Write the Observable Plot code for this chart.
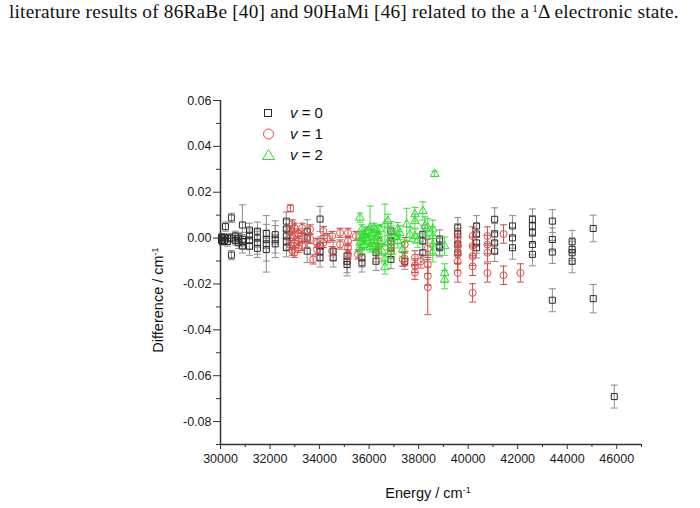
<!DOCTYPE html>
<html><head><meta charset="utf-8">
<script src="https://cdn.jsdelivr.net/npm/d3@7"></script>
<script src="https://cdn.jsdelivr.net/npm/@observablehq/plot@0.6"></script>
<style>
body{margin:0;background:#fff;width:700px;height:508px;position:relative;overflow:hidden}
#hdr{height:30px;font-family:"Liberation Serif",serif;font-size:19.3px;letter-spacing:0.2px;line-height:24px;padding-left:9px;white-space:nowrap;color:#111}
#hdr sup{font-size:11px;vertical-align:6px;line-height:0;margin-left:3px}
#legend{position:absolute;left:250px;top:98px}
</style></head><body>
<div id="hdr">literature results of 86RaBe [40] and 90HaMi [46] related to the a<sup>1</sup>Δ electronic state.</div>
<div id="chart"></div>
<div id="legend"></div>
<script>
// v = 0 (squares)
const v0Energy = [30040,30040,30080,30080,30160,30160,30200,30280,30280,30440,30440,30440,30600,30600,30720,30720,30885,30885,30885,30885,31170,31170,31170,31170,31490,31490,31490,31490,31850,31850,31850,31850,32210,32210,32210,32660,32660,32660,32660,32660,33500,33500,33500,34020,34020,34020,34020,34550,34550,35110,35110,35110,35710,35710,36280,36280,36880,36880,36880,36880,37440,38170,38170,38170,38850,38850,38850,39580,39580,39580,39580,40340,40340,40340,40340,41070,41070,41070,41070,41790,41790,41790,42595,42595,42595,42595,42595,43400,43400,43400,43400,44200,44200,44200,44200,45050,45050,45900];
const v0Diff = [0.0005,-0.001,0,-0.0015,0.0005,-0.001,0.005,0,-0.0015,0.0088,-0.0074,0,0.001,-0.001,0,-0.002,0.0057,-0.0005,-0.0015,-0.0035,0.0035,0.001,-0.001,-0.0035,0.003,0,-0.002,-0.0045,0.002,-0.0005,-0.0025,-0.005,0.0015,-0.0005,-0.0025,0.0074,0.004,0.0009,-0.0013,-0.0042,0.003,0,-0.0057,0.0083,-0.0035,-0.0057,-0.0086,-0.0057,-0.0086,-0.0079,-0.0101,-0.0115,-0.0086,-0.0108,-0.0064,-0.0101,0.0031,-0.0013,-0.0042,-0.0093,-0.0101,0.0017,-0.0013,-0.0064,-0.0004,-0.0035,-0.0042,0.0045,0.0018,-0.0026,-0.0064,0.0053,0.0018,-0.0021,-0.0042,0.0082,0.0018,-0.0021,-0.0057,0.0053,0.0001,-0.0042,0.0082,0.0053,0.0023,-0.0028,-0.0071,0.0074,-0.0006,-0.0061,-0.0271,-0.0016,-0.0049,-0.0064,-0.0101,0.0042,-0.0264,-0.0691];
const v0Err = [0.001,0.001,0.001,0.0015,0.001,0.0015,0.002,0.0015,0.002,0.002,0.002,0.002,0.002,0.002,0.002,0.0025,0.0088,0.003,0.003,0.003,0.003,0.003,0.004,0.004,0.004,0.004,0.005,0.004,0.004,0.004,0.0123,0.005,0.004,0.008,0.004,0.004,0.004,0.004,0.004,0.004,0.005,0.004,0.005,0.0055,0.004,0.004,0.004,0.004,0.004,0.005,0.005,0.005,0.004,0.004,0.004,0.004,0.004,0.004,0.004,0.004,0.0035,0.004,0.004,0.004,0.004,0.004,0.004,0.0045,0.0045,0.0045,0.0045,0.0045,0.0045,0.0045,0.0045,0.005,0.0045,0.0045,0.0045,0.0045,0.0045,0.005,0.0045,0.0045,0.0045,0.0045,0.005,0.005,0.005,0.005,0.005,0.005,0.005,0.005,0.005,0.0058,0.0062,0.005];

// v = 1 (circles)
const v1Energy = [32820,32820,32820,32820,32900,32900,32980,32980,32980,32980,33140,33140,33140,33300,33300,33300,33620,33620,33740,33900,33900,34150,34150,34310,34510,34510,34830,34830,35150,35150,35150,35150,35470,35550,36360,36360,36880,36880,37360,37440,37440,37850,37850,37850,38090,38370,38370,38370,38370,39580,39580,39580,39580,39580,40180,40180,40180,40180,40180,40780,40780,40780,40780,41430,41430,42110];
const v1Diff = [0.013,0.0035,0,-0.003,0.006,-0.0055,0.0045,0.0009,-0.0021,-0.0064,0.002,-0.0013,-0.0042,0.0045,0,-0.0035,0.0038,-0.0004,-0.0093,-0.0049,-0.0021,0.0031,-0.0021,0,0.0009,-0.0057,0.0023,-0.0028,0.0023,-0.0013,-0.0042,-0.0071,0.0009,-0.0071,-0.0013,-0.0057,-0.0028,-0.0057,-0.0093,-0.0028,-0.009,-0.0085,-0.012,-0.015,-0.0101,-0.0045,-0.0115,-0.0166,-0.0214,0.0001,-0.0035,-0.0071,-0.0101,-0.0152,0.0009,-0.0035,-0.0079,-0.0123,-0.0239,0.0009,-0.0028,-0.0064,-0.0152,0.0018,-0.0162,-0.0152];
const v1Err = [0.0015,0.002,0.002,0.002,0.002,0.002,0.002,0.002,0.002,0.002,0.002,0.002,0.002,0.002,0.002,0.002,0.002,0.002,0.002,0.002,0.002,0.002,0.002,0.002,0.002,0.002,0.002,0.002,0.002,0.002,0.002,0.002,0.002,0.002,0.003,0.003,0.003,0.003,0.003,0.003,0.003,0.003,0.003,0.003,0.003,0.004,0.004,0.004,0.012,0.004,0.004,0.004,0.004,0.004,0.004,0.004,0.004,0.004,0.004,0.004,0.004,0.004,0.004,0.004,0.004,0.004];

// v = 2 (triangles)
const v2Energy = [35630,35630,35630,35630,35710,35710,35790,35790,35870,35870,35960,35960,36040,36040,36120,36120,36200,36200,36280,36280,36360,36440,36440,36520,36640,36640,36640,36760,36760,36880,36880,37040,37160,37160,37240,37360,37520,37650,37850,37850,37850,37970,38170,38250,38370,38570,38570,38570,38570,38650,39050,39050,39050];
const v2Diff = [0.0089,0.001,-0.002,-0.0045,0.0038,-0.0005,0.0015,-0.003,0,0.0025,-0.0015,0.003,0.0045,-0.004,0.002,-0.0025,-0.001,0.0045,0.0035,-0.0049,0.0009,-0.0013,0.0038,-0.0057,0.006,-0.0093,-0.0127,0.0074,-0.002,0.0023,-0.006,0.0005,0.0038,-0.0013,0.0023,-0.0049,0.006,0.0015,0.0104,0.0074,0.0009,-0.001,0.0118,0.0053,0.0045,0.0038,0.0009,-0.0028,-0.0064,0.028,-0.0035,-0.0152,-0.0181];
const v2Err = [0.002,0.002,0.002,0.002,0.002,0.002,0.002,0.002,0.002,0.002,0.002,0.002,0.0095,0.002,0.002,0.002,0.002,0.002,0.002,0.002,0.002,0.002,0.002,0.002,0.0088,0.002,0.003,0.003,0.003,0.003,0.003,0.003,0.003,0.003,0.003,0.003,0.007,0.003,0.003,0.003,0.003,0.003,0.004,0.004,0.004,0.004,0.004,0.004,0.004,0.0012,0.004,0.004,0.004];

// axis ticks
const xMajor = [30000,32000,34000,36000,38000,40000,42000,44000,46000];
const xMinor = [31000,33000,35000,37000,39000,41000,43000,45000,47000];
const yMajor = [-0.08,-0.06,-0.04,-0.02,0,0.02,0.04,0.06];
const yMinor = [-0.09,-0.07,-0.05,-0.03,-0.01,0.01,0.03,0.05];

const legendLabels = ["0","1","2"];
const colors = {v0:"#2a2a2a", v0bar:"#8c8c8c", v1:"#d9534f", v1bar:"#cf4a46", v2:"#2fdc2f", v2bar:"#3ee03e"};

const series = (E, D, R) => E.map((e, i) => ({E: e, d: D[i], err: R[i]}));
const s0 = series(v0Energy, v0Diff, v0Err);
const s1 = series(v1Energy, v1Diff, v1Err);
const s2 = series(v2Energy, v2Diff, v2Err);

const capSym = {draw(ctx, size){ const r = Math.sqrt(size/Math.PI); ctx.moveTo(-r,0); ctx.lineTo(r,0); }};
const errMarks = (data, color) => [
  Plot.ruleX(data, {x:"E", y1: r => r.d - r.err, y2: r => r.d + r.err, stroke: color, strokeWidth: 1}),
  Plot.dot(data, {x:"E", y: r => r.d + r.err, symbol: capSym, r: 3.5, stroke: color, strokeWidth: 1}),
  Plot.dot(data, {x:"E", y: r => r.d - r.err, symbol: capSym, r: 3.5, stroke: color, strokeWidth: 1})
];

const plot = Plot.plot({
  width: 700, height: 478,
  marginTop: 70, marginBottom: 64, marginLeft: 220, marginRight: 59,
  style: {fontFamily: "'Liberation Sans', Arial, sans-serif", fontSize: "12px", color: "#222", background: "white", overflow: "visible"},
  x: {domain: [30000, 47000]},
  y: {domain: [-0.09, 0.06]},
  marks: [
    Plot.axisY(yMajor, {tickSize: 7, tickPadding: 2, tickFormat: d => d.toFixed(2), label: null, stroke: "#333", fontSize: 12.5, fill: "#1a1a1a"}),
    Plot.axisY(yMinor, {tickSize: 4, tickFormat: () => "", label: null, stroke: "#333"}),
    Plot.axisX(xMajor, {tickSize: 5, tickPadding: 5, tickFormat: d => String(d), label: null, stroke: "#333", fontSize: 12.5, fill: "#1a1a1a"}),
    Plot.axisX(xMinor, {tickSize: 3, tickFormat: () => "", label: null, stroke: "#333"}),
    ...errMarks(s0, colors.v0bar),
    Plot.dot(s0, {x: "E", y: "d", symbol: "square", r: 3.4, stroke: colors.v0, fill: "none", strokeWidth: 1}),
    ...errMarks(s1, colors.v1bar),
    Plot.dot(s1, {x: "E", y: "d", symbol: "circle", r: 3.5, stroke: colors.v1, fill: "none", strokeWidth: 1}),
    ...errMarks(s2, colors.v2bar),
    Plot.dot(s2, {x: "E", y: "d", symbol: "triangle", r: 3.2, stroke: colors.v2, fill: "none", strokeWidth: 1}),
    Plot.ruleX([30000], {stroke: "#333", strokeWidth: 1.5}),
    Plot.ruleY([-0.09], {stroke: "#333", strokeWidth: 1.5}),
    Plot.text(["Energy / cm"], {frameAnchor: "bottom", lineAnchor: "middle", textAnchor: "middle", fontSize: 14.5, fill: "#111"}),
    Plot.text(["Difference / cm"], {frameAnchor: "left", lineAnchor: "middle", textAnchor: "middle", rotate: -90, fontSize: 14.5, fill: "#111"})
  ]
});
document.getElementById("chart").appendChild(plot);

// tick label size (force over any default)
d3.select(plot).selectAll("text")
  .filter(function() { return /^-?\d/.test(this.textContent); })
  .style("font-size", "12.5px");

// place axis titles and add the "-1" superscripts
const labelPos = {"Energy / cm": "translate(428,468)", "Difference / cm": "translate(163,270) rotate(-90)"};
d3.select(plot).selectAll("text").each(function() {
  const t = this.textContent;
  if (labelPos[t]) {
    d3.select(this).attr("transform", labelPos[t]).attr("x", null).attr("y", null).attr("text-anchor", "middle");
    d3.select(this.parentNode).attr("transform", null).attr("text-anchor", "middle");
    d3.select(this).append("tspan").attr("dy", "-0.55em").attr("font-size", "9px").text("-1");
  }
});

// legend
const lg = d3.select("#legend").append("svg").attr("width", 120).attr("height", 70)
  .style("font-family", "'Liberation Sans', Arial, sans-serif").style("font-size", "15px");
const rowY = [15, 36, 57];
lg.append("rect").attr("x", 14.5).attr("y", rowY[0]-3.5).attr("width", 7).attr("height", 7).attr("fill", "none").attr("stroke", colors.v0);
lg.append("circle").attr("cx", 18.5).attr("cy", rowY[1]).attr("r", 5).attr("fill", "none").attr("stroke", colors.v1);
lg.append("path").attr("d", `M18.5,${rowY[2]-5.5} L24.5,${rowY[2]+4.5} L12.5,${rowY[2]+4.5} Z`).attr("fill", "none").attr("stroke", colors.v2);
legendLabels.forEach((l, i) => {
  const t = lg.append("text").attr("x", 40).attr("y", rowY[i] + 5).attr("fill", "#111");
  t.append("tspan").attr("font-style", "italic").text("v");
  t.append("tspan").text(" = " + l);
});
</script>
</body></html>
